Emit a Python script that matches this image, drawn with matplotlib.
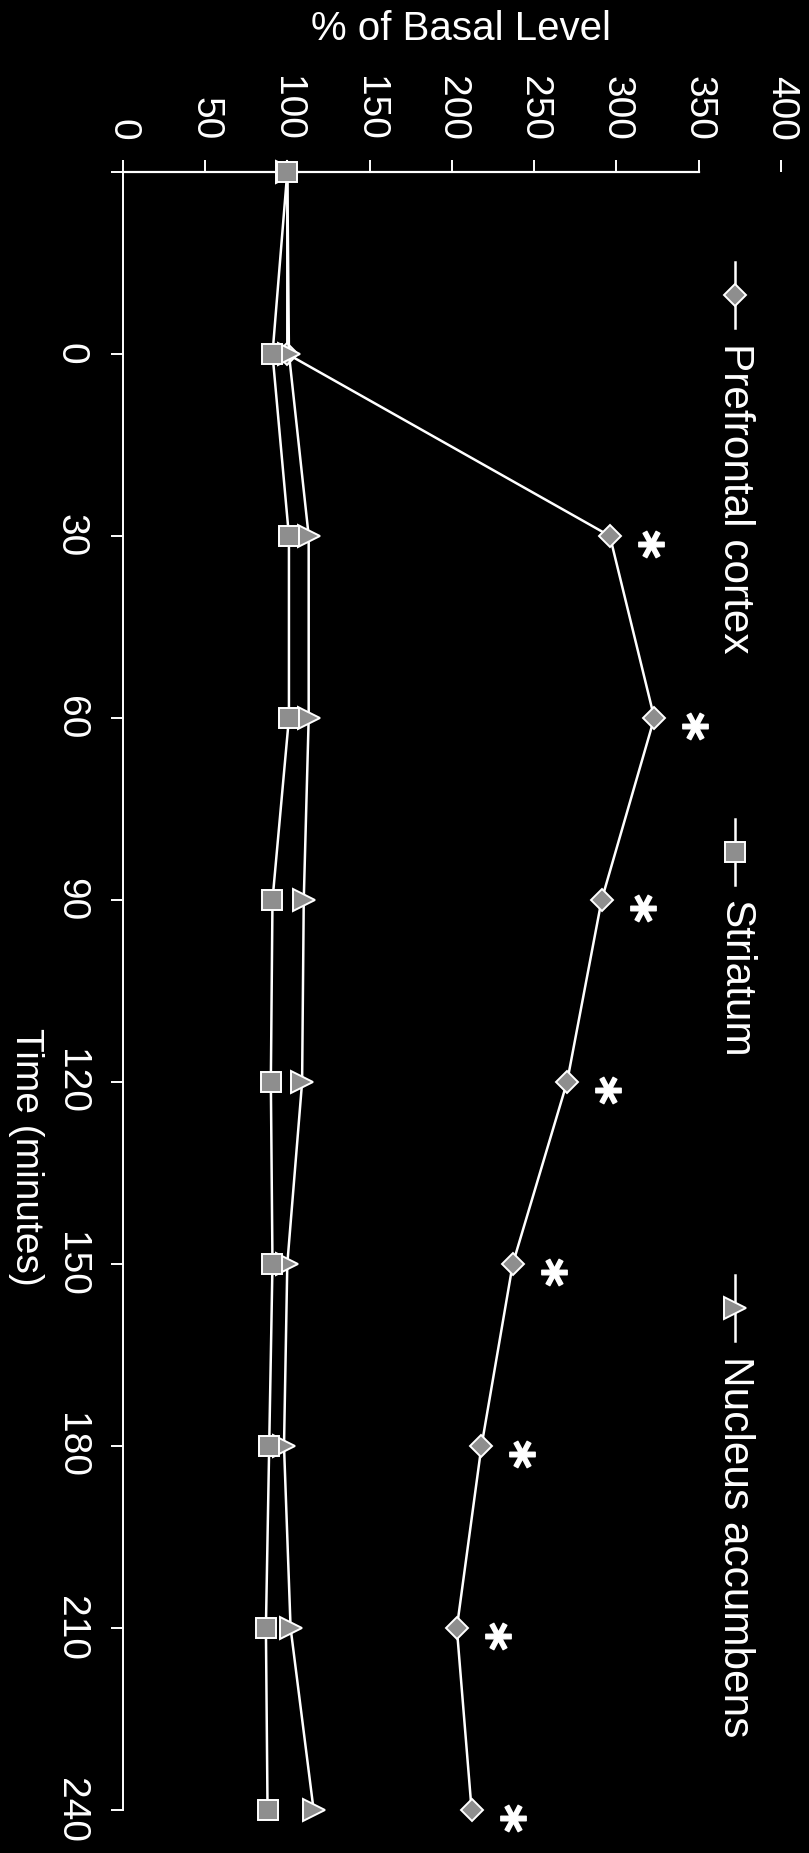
import matplotlib
matplotlib.use("Agg")
import matplotlib.pyplot as plt
from matplotlib.lines import Line2D
from matplotlib.markers import MarkerStyle
from matplotlib.transforms import Affine2D, offset_copy

# time points (minutes); the first one is the basal sample before injection
times = [-30, 0, 30, 60, 90, 120, 150, 180, 210, 240]
time_labels = ["", "0", "30", "60", "90", "120", "150", "180", "210", "240"]

prefrontal = [100, 100, 296, 323, 291, 270, 237, 218, 203, 212]
striatum = [100, 91, 101, 101, 91, 90, 91, 89, 87, 88]
accumbens = [100, 101, 113, 113, 110, 109, 100, 98, 102, 116]

# significant points (prefrontal cortex)
sig_times = [30, 60, 90, 120, 150, 180, 210, 240]

value_ticks = [0, 50, 100, 150, 200, 250, 300, 350, 400]

names = ["Prefrontal cortex", "Striatum", "Nucleus accumbens"]
markers = ["D", "s", ">"]
msizes = [11, 15, 16]

FONT = ["Liberation Sans", "DejaVu Sans"]
FG = "white"
BG = "black"
MFACE = "#8e8e8e"

plt.rcParams["font.family"] = FONT

fig = plt.figure(figsize=(8.09, 18.53), dpi=100, facecolor=BG)
ax = fig.add_axes([0.1517, 0.0232, 0.8137, 0.8840], facecolor=BG)

series = [prefrontal, striatum, accumbens]
zorders = [3, 5, 4]
for vals, mk, ms, z in zip(series, markers, msizes, zorders):
    ax.plot(vals, times, color=FG, lw=1.8, marker=mk, ms=ms,
            mfc=MFACE, mec=FG, mew=1.4, zorder=z, clip_on=False)

# asterisks beside the prefrontal points
sig_vals = [prefrontal[times.index(t)] for t in sig_times]
star = MarkerStyle(r"$\mathbf{*}$", transform=Affine2D().rotate_deg(-90))
tr = offset_copy(ax.transData, fig=fig, x=41, y=-8, units="dots")
ax.plot(sig_vals, sig_times, ls="none", marker=star, ms=19, color=FG,
        transform=tr, clip_on=False)

ax.set_xlim(0, 400)
ax.set_ylim(240, -30)

ax.xaxis.tick_top()
ax.set_xticks(value_ticks)
ax.set_xticklabels([str(v) for v in value_ticks], rotation=-90)
ax.set_yticks(times)
ax.set_yticklabels(time_labels, rotation=-90, va="center")

ax.tick_params(axis="x", colors=FG, direction="out", length=8.5, width=1.4,
               pad=14, labelsize=28)
ax.tick_params(axis="y", colors=FG, direction="out", length=8.5, width=1.4,
               pad=16, labelsize=28)

for side in ["right", "bottom"]:
    ax.spines[side].set_visible(False)
ax.spines["left"].set_color(FG)
ax.spines["left"].set_linewidth(1.4)
ax.spines["top"].set_color(FG)
ax.spines["top"].set_linewidth(1.6)
ax.spines["top"].set_bounds(0, 350)

# axis titles
fig.text(461 / 809, 1 - 29 / 1853, "% of Basal Level", color=FG,
         fontsize=29, ha="center", va="center")
fig.text(26 / 809, 1 - 1157 / 1853, "Time (minutes)", color=FG,
         fontsize=28, rotation=-90, ha="center", va="center")

# legend, rotated like the rest of the figure
W, H = 809, 1853
leg_x = 735 / W
text_tops = [343, 900, 1356]
for name, mk, ms, top in zip(names, markers, msizes, text_tops):
    y1 = 1 - (top - 81) / H
    y2 = 1 - (top - 15) / H
    ym = (y1 + y2) / 2
    fig.add_artist(Line2D([leg_x, leg_x, leg_x], [y1, ym, y2],
                          transform=fig.transFigure, color=FG, lw=1.8,
                          marker=mk, markevery=[1], ms=ms, mfc=MFACE,
                          mec=FG, mew=1.4))
    fig.text(leg_x, 1 - top / H, name, color=FG, fontsize=30.5,
             rotation=-90, ha="center", va="top")

fig.savefig("out.png", dpi=100, facecolor=BG)
